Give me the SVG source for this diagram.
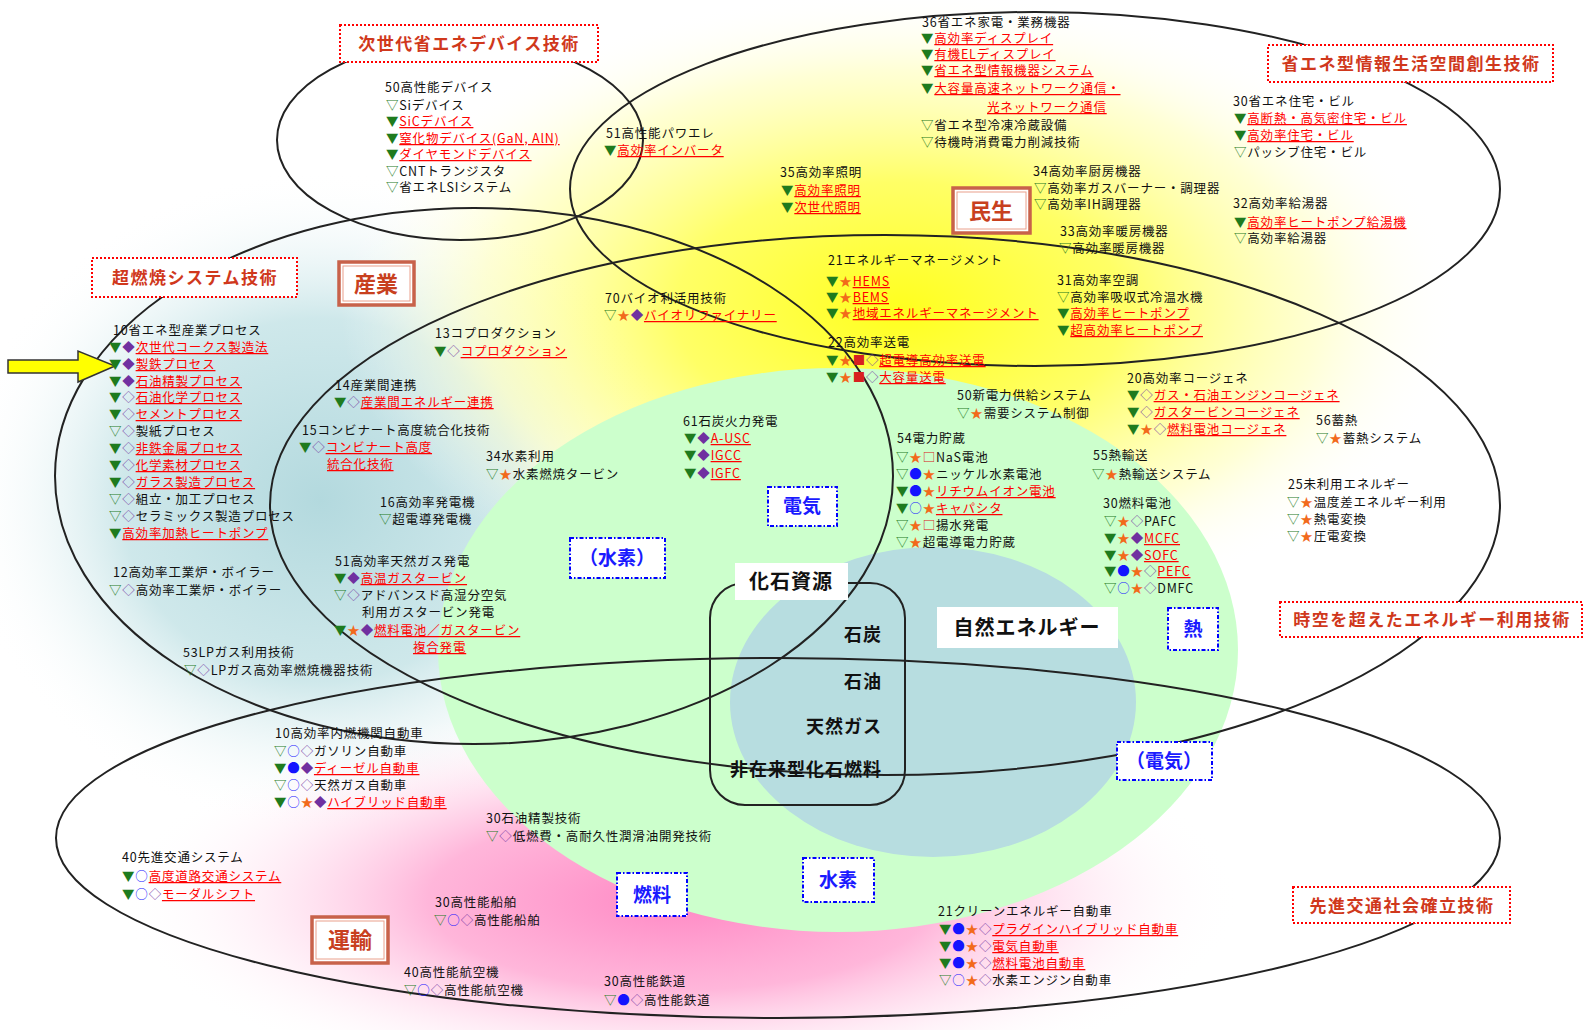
<svg xmlns="http://www.w3.org/2000/svg" width="1585" height="1030" viewBox="0 0 1585 1030">
<style>
.t{font-family:"Noto Sans CJK JP","Noto Sans",sans-serif;font-size:12.5px;fill:#111;letter-spacing:.8px}
.lk{fill:#f00;text-decoration:underline}
.g{fill:#1e7b1e}
.p{fill:#7030a0}
.s{fill:#f26a1b}
.b{fill:#1414ff}
.q{fill:#d82020}
.cat{font-family:"Noto Sans CJK JP",sans-serif;font-size:17px;font-weight:bold;fill:#d0381c;letter-spacing:1.5px;text-anchor:middle}
.catbox{fill:#fff;stroke:#f00;stroke-width:2;stroke-dasharray:2 2}
.sec{font-family:"Noto Sans CJK JP",sans-serif;font-size:22px;font-weight:bold;fill:#c8401e;text-anchor:middle}
.secbox{fill:#fff;stroke:#c8624a;stroke-width:3.5}
.secin{fill:none;stroke:#eaa08c;stroke-width:1}
.en{font-family:"Noto Sans CJK JP",sans-serif;font-size:19px;font-weight:bold;fill:#1a1aff;text-anchor:middle}
.enbox{fill:#fff;stroke:#00f;stroke-width:2;stroke-dasharray:4 2 1.5 2}
.ell{fill:none;stroke:#222;stroke-width:2}
.fos{font-family:"Noto Sans CJK JP",sans-serif;font-size:18px;font-weight:bold;fill:#111;letter-spacing:1px;text-anchor:end}
.big{font-family:"Noto Sans CJK JP",sans-serif;font-size:20px;font-weight:bold;fill:#111;letter-spacing:1px;text-anchor:middle}
</style>
<defs>
<radialGradient id="gTeal" cx="0.5" cy="0.5" r="0.5">
<stop offset="0" stop-color="#b3d9de"/>
<stop offset="0.55" stop-color="#c6e4e7" stop-opacity="0.85"/>
<stop offset="1" stop-color="#ffffff" stop-opacity="0"/>
</radialGradient>
<radialGradient id="gYel" cx="0.5" cy="0.5" r="0.5">
<stop offset="0" stop-color="#ffff1e"/>
<stop offset="0.4" stop-color="#ffff66"/>
<stop offset="0.75" stop-color="#ffffc4" stop-opacity="0.7"/>
<stop offset="1" stop-color="#ffffff" stop-opacity="0"/>
</radialGradient>
<radialGradient id="gPink" cx="0.5" cy="0.5" r="0.5">
<stop offset="0" stop-color="#ff88c4"/>
<stop offset="0.45" stop-color="#ffaed6" stop-opacity="0.9"/>
<stop offset="1" stop-color="#ffffff" stop-opacity="0"/>
</radialGradient>
</defs>
<rect width="1585" height="1030" fill="#fff"/>
<g id="backgrounds">
<ellipse cx="320" cy="500" rx="360" ry="330" fill="url(#gTeal)"/>
<ellipse cx="900" cy="310" rx="560" ry="320" fill="url(#gYel)"/>
<ellipse cx="680" cy="900" rx="560" ry="200" fill="url(#gPink)"/>
<ellipse id="green" cx="838" cy="650" rx="400" ry="282" fill="#ccffcc"/>
<ellipse id="blue" cx="933" cy="702" rx="203" ry="155" fill="#b7dde0"/>
</g>
<g id="regions">
<ellipse class="ell" cx="460" cy="140" rx="183" ry="100"/>
<ellipse class="ell" cx="1035" cy="189" rx="465" ry="177"/>
<ellipse class="ell" cx="474" cy="476" rx="419" ry="268"/>
<ellipse class="ell" cx="885" cy="505" rx="615" ry="270"/>
<ellipse class="ell" cx="778" cy="838" rx="722" ry="180"/>
<rect class="ell" x="710" y="583" width="195" height="222" rx="35"/>
</g>
<g id="connectors">
<path d="M8,360 H78 V351 L115,366 L78,382 V373 H8 Z" fill="#ffff00" stroke="#333" stroke-width="1.5"/>
</g>
<g id="cat-device"><rect class="catbox" x="340" y="25" width="258" height="37"/><text class="cat" x="469" y="50">次世代省エネデバイス技術</text></g>
<g id="cat-info"><rect class="catbox" x="1268" y="45" width="285" height="37"/><text class="cat" x="1411" y="70">省エネ型情報生活空間創生技術</text></g>
<g id="cat-combust"><rect class="catbox" x="92" y="258" width="205" height="39"/><text class="cat" x="195" y="284">超燃焼システム技術</text></g>
<g id="cat-time"><rect class="catbox" x="1280" y="602" width="302" height="35"/><text class="cat" x="1432" y="626">時空を超えたエネルギー利用技術</text></g>
<g id="cat-traffic"><rect class="catbox" x="1293" y="887" width="217" height="36"/><text class="cat" x="1402" y="912">先進交通社会確立技術</text></g>
<g id="sec-industry"><rect class="secbox" x="339" y="262" width="75" height="43"/><rect class="secin" x="343" y="266" width="67" height="35"/><text class="sec" x="376" y="292">産業</text></g>
<g id="sec-civil"><rect class="secbox" x="953" y="188" width="77" height="45"/><rect class="secin" x="957" y="192" width="69" height="37"/><text class="sec" x="991" y="219">民生</text></g>
<g id="sec-transport"><rect class="secbox" x="312" y="917" width="76" height="46"/><rect class="secin" x="316" y="921" width="68" height="38"/><text class="sec" x="350" y="948">運輸</text></g>
<g id="en-elec"><rect class="enbox" x="768" y="487" width="69" height="39"/><text class="en" x="802" y="513">電気</text></g>
<g id="en-h2a"><rect class="enbox" x="570" y="538" width="95" height="40"/><text class="en" x="617" y="565">（水素）</text></g>
<g id="en-heat"><rect class="enbox" x="1168" y="608" width="50" height="42"/><text class="en" x="1193" y="636">熱</text></g>
<g id="en-elec2"><rect class="enbox" x="1117" y="742" width="95" height="38"/><text class="en" x="1164" y="768">（電気）</text></g>
<g id="en-fuel"><rect class="enbox" x="617" y="873" width="70" height="43"/><text class="en" x="652" y="902">燃料</text></g>
<g id="en-h2"><rect class="enbox" x="803" y="858" width="71" height="44"/><text class="en" x="838" y="887">水素</text></g>
<g id="fossil">
<rect x="735" y="563" width="113" height="37" fill="#fff"/>
<text class="big" x="791" y="589">化石資源</text>
<text class="fos" x="882" y="641">石炭</text>
<text class="fos" x="882" y="688">石油</text>
<text class="fos" x="882" y="733">天然ガス</text>
<text class="fos" x="882" y="776">非在来型化石燃料</text>
</g>
<g id="natural"><rect x="937" y="607" width="181" height="41" fill="#fff"/><text class="big" x="1027" y="635">自然エネルギー</text></g>

<g id="n50dev">
<text class="t" x="385" y="92">50高性能デバイス</text>
<text class="t" x="386" y="110"><tspan class="g">▽</tspan>Siデバイス</text>
<text class="t" x="386" y="126"><tspan class="g">▼</tspan><tspan class="lk">SiCデバイス</tspan></text>
<text class="t" x="386" y="143"><tspan class="g">▼</tspan><tspan class="lk">窒化物デバイス(GaN, AlN)</tspan></text>
<text class="t" x="386" y="159"><tspan class="g">▼</tspan><tspan class="lk">ダイヤモンドデバイス</tspan></text>
<text class="t" x="386" y="176"><tspan class="g">▽</tspan>CNTトランジスタ</text>
<text class="t" x="386" y="192"><tspan class="g">▽</tspan>省エネLSIシステム</text>
</g>
<g id="n51pe">
<text class="t" x="606" y="138">51高性能パワエレ</text>
<text class="t" x="604" y="155"><tspan class="g">▼</tspan><tspan class="lk">高効率インバータ</tspan></text>
</g>
<g id="n36">
<text class="t" x="922" y="27">36省エネ家電・業務機器</text>
<text class="t" x="921" y="43"><tspan class="g">▼</tspan><tspan class="lk">高効率ディスプレイ</tspan></text>
<text class="t" x="921" y="59"><tspan class="g">▼</tspan><tspan class="lk">有機ELディスプレイ</tspan></text>
<text class="t" x="921" y="75"><tspan class="g">▼</tspan><tspan class="lk">省エネ型情報機器システム</tspan></text>
<text class="t" x="921" y="93"><tspan class="g">▼</tspan><tspan class="lk">大容量高速ネットワーク通信・</tspan></text>
<text class="t" x="987" y="112"><tspan class="lk">光ネットワーク通信</tspan></text>
<text class="t" x="921" y="130"><tspan class="g">▽</tspan>省エネ型冷凍冷蔵設備</text>
<text class="t" x="921" y="147"><tspan class="g">▽</tspan>待機時消費電力削減技術</text>
</g>
<g id="n35">
<text class="t" x="780" y="177">35高効率照明</text>
<text class="t" x="781" y="195"><tspan class="g">▼</tspan><tspan class="lk">高効率照明</tspan></text>
<text class="t" x="781" y="212"><tspan class="g">▼</tspan><tspan class="lk">次世代照明</tspan></text>
</g>
<g id="n34k">
<text class="t" x="1033" y="176">34高効率厨房機器</text>
<text class="t" x="1034" y="193"><tspan class="g">▽</tspan>高効率ガスバーナー・調理器</text>
<text class="t" x="1034" y="209"><tspan class="g">▽</tspan>高効率IH調理器</text>
</g>
<g id="n33">
<text class="t" x="1060" y="236">33高効率暖房機器</text>
<text class="t" x="1059" y="253"><tspan class="g">▽</tspan>高効率暖房機器</text>
</g>
<g id="n31">
<text class="t" x="1057" y="285">31高効率空調</text>
<text class="t" x="1057" y="302"><tspan class="g">▽</tspan>高効率吸収式冷温水機</text>
<text class="t" x="1057" y="318"><tspan class="g">▼</tspan><tspan class="lk">高効率ヒートポンプ</tspan></text>
<text class="t" x="1057" y="335"><tspan class="g">▼</tspan><tspan class="lk">超高効率ヒートポンプ</tspan></text>
</g>
<g id="n30h">
<text class="t" x="1233" y="106">30省エネ住宅・ビル</text>
<text class="t" x="1234" y="123"><tspan class="g">▼</tspan><tspan class="lk">高断熱・高気密住宅・ビル</tspan></text>
<text class="t" x="1234" y="140"><tspan class="g">▼</tspan><tspan class="lk">高効率住宅・ビル</tspan></text>
<text class="t" x="1234" y="157"><tspan class="g">▽</tspan>パッシブ住宅・ビル</text>
</g>
<g id="n32">
<text class="t" x="1233" y="208">32高効率給湯器</text>
<text class="t" x="1234" y="227"><tspan class="g">▼</tspan><tspan class="lk">高効率ヒートポンプ給湯機</tspan></text>
<text class="t" x="1234" y="243"><tspan class="g">▽</tspan>高効率給湯器</text>
</g>
<g id="n21em">
<text class="t" x="828" y="265">21エネルギーマネージメント</text>
<text class="t" x="826" y="286"><tspan class="g">▼</tspan><tspan class="s">★</tspan><tspan class="lk">HEMS</tspan></text>
<text class="t" x="826" y="302"><tspan class="g">▼</tspan><tspan class="s">★</tspan><tspan class="lk">BEMS</tspan></text>
<text class="t" x="826" y="318"><tspan class="g">▼</tspan><tspan class="s">★</tspan><tspan class="lk">地域エネルギーマネージメント</tspan></text>
</g>
<g id="n22tx">
<text class="t" x="828" y="347">22高効率送電</text>
<text class="t" x="826" y="365"><tspan class="g">▼</tspan><tspan class="s">★</tspan><tspan class="q">■</tspan><tspan class="p">◇</tspan><tspan class="lk">超電導高効率送電</tspan></text>
<text class="t" x="826" y="382"><tspan class="g">▼</tspan><tspan class="s">★</tspan><tspan class="q">■</tspan><tspan class="p">◇</tspan><tspan class="lk">大容量送電</tspan></text>
</g>
<g id="n50sys">
<text class="t" x="957" y="400">50新電力供給システム</text>
<text class="t" x="957" y="418"><tspan class="g">▽</tspan><tspan class="s">★</tspan>需要システム制御</text>
</g>
<g id="n20cg">
<text class="t" x="1127" y="383">20高効率コージェネ</text>
<text class="t" x="1127" y="400"><tspan class="g">▼</tspan><tspan class="p">◇</tspan><tspan class="lk">ガス・石油エンジンコージェネ</tspan></text>
<text class="t" x="1127" y="417"><tspan class="g">▼</tspan><tspan class="p">◇</tspan><tspan class="lk">ガスタービンコージェネ</tspan></text>
<text class="t" x="1127" y="434"><tspan class="g">▼</tspan><tspan class="s">★</tspan><tspan class="p">◇</tspan><tspan class="lk">燃料電池コージェネ</tspan></text>
</g>
<g id="n56">
<text class="t" x="1316" y="425">56蓄熱</text>
<text class="t" x="1316" y="443"><tspan class="g">▽</tspan><tspan class="s">★</tspan>蓄熱システム</text>
</g>
<g id="n54">
<text class="t" x="897" y="443">54電力貯蔵</text>
<text class="t" x="896" y="462"><tspan class="g">▽</tspan><tspan class="s">★</tspan><tspan class="q">□</tspan>NaS電池</text>
<text class="t" x="896" y="479"><tspan class="g">▽</tspan><tspan class="b">●</tspan><tspan class="s">★</tspan>ニッケル水素電池</text>
<text class="t" x="896" y="496"><tspan class="g">▼</tspan><tspan class="b">●</tspan><tspan class="s">★</tspan><tspan class="lk">リチウムイオン電池</tspan></text>
<text class="t" x="896" y="513"><tspan class="g">▼</tspan><tspan class="b">○</tspan><tspan class="s">★</tspan><tspan class="lk">キャパシタ</tspan></text>
<text class="t" x="896" y="530"><tspan class="g">▽</tspan><tspan class="s">★</tspan><tspan class="q">□</tspan>揚水発電</text>
<text class="t" x="896" y="547"><tspan class="g">▽</tspan><tspan class="s">★</tspan>超電導電力貯蔵</text>
</g>
<g id="n55">
<text class="t" x="1093" y="460">55熱輸送</text>
<text class="t" x="1092" y="479"><tspan class="g">▽</tspan><tspan class="s">★</tspan>熱輸送システム</text>
</g>
<g id="n30fc">
<text class="t" x="1103" y="508">30燃料電池</text>
<text class="t" x="1104" y="526"><tspan class="g">▽</tspan><tspan class="s">★</tspan><tspan class="p">◇</tspan>PAFC</text>
<text class="t" x="1104" y="543"><tspan class="g">▼</tspan><tspan class="s">★</tspan><tspan class="p">◆</tspan><tspan class="lk">MCFC</tspan></text>
<text class="t" x="1104" y="560"><tspan class="g">▼</tspan><tspan class="s">★</tspan><tspan class="p">◆</tspan><tspan class="lk">SOFC</tspan></text>
<text class="t" x="1104" y="576"><tspan class="g">▼</tspan><tspan class="b">●</tspan><tspan class="s">★</tspan><tspan class="p">◇</tspan><tspan class="lk">PEFC</tspan></text>
<text class="t" x="1104" y="593"><tspan class="g">▽</tspan><tspan class="b">○</tspan><tspan class="s">★</tspan><tspan class="p">◇</tspan>DMFC</text>
</g>
<g id="n25">
<text class="t" x="1288" y="489">25未利用エネルギー</text>
<text class="t" x="1287" y="507"><tspan class="g">▽</tspan><tspan class="s">★</tspan>温度差エネルギー利用</text>
<text class="t" x="1287" y="524"><tspan class="g">▽</tspan><tspan class="s">★</tspan>熱電変換</text>
<text class="t" x="1287" y="541"><tspan class="g">▽</tspan><tspan class="s">★</tspan>圧電変換</text>
</g>
<g id="n10ind">
<text class="t" x="113" y="335">10省エネ型産業プロセス</text>
<text class="t" x="109" y="352"><tspan class="g">▼</tspan><tspan class="p">◆</tspan><tspan class="lk">次世代コークス製造法</tspan></text>
<text class="t" x="109" y="369"><tspan class="g">▼</tspan><tspan class="p">◆</tspan><tspan class="lk">製鉄プロセス</tspan></text>
<text class="t" x="109" y="386"><tspan class="g">▼</tspan><tspan class="p">◆</tspan><tspan class="lk">石油精製プロセス</tspan></text>
<text class="t" x="109" y="402"><tspan class="g">▼</tspan><tspan class="p">◇</tspan><tspan class="lk">石油化学プロセス</tspan></text>
<text class="t" x="109" y="419"><tspan class="g">▼</tspan><tspan class="p">◇</tspan><tspan class="lk">セメントプロセス</tspan></text>
<text class="t" x="109" y="436"><tspan class="g">▽</tspan><tspan class="p">◇</tspan>製紙プロセス</text>
<text class="t" x="109" y="453"><tspan class="g">▼</tspan><tspan class="p">◇</tspan><tspan class="lk">非鉄金属プロセス</tspan></text>
<text class="t" x="109" y="470"><tspan class="g">▼</tspan><tspan class="p">◇</tspan><tspan class="lk">化学素材プロセス</tspan></text>
<text class="t" x="109" y="487"><tspan class="g">▼</tspan><tspan class="p">◇</tspan><tspan class="lk">ガラス製造プロセス</tspan></text>
<text class="t" x="109" y="504"><tspan class="g">▽</tspan><tspan class="p">◇</tspan>組立・加工プロセス</text>
<text class="t" x="109" y="521"><tspan class="g">▽</tspan><tspan class="p">◇</tspan>セラミックス製造プロセス</text>
<text class="t" x="109" y="538"><tspan class="g">▼</tspan><tspan class="lk">高効率加熱ヒートポンプ</tspan></text>
</g>
<g id="n12">
<text class="t" x="113" y="577">12高効率工業炉・ボイラー</text>
<text class="t" x="109" y="595"><tspan class="g">▽</tspan><tspan class="p">◇</tspan>高効率工業炉・ボイラー</text>
</g>
<g id="n53">
<text class="t" x="183" y="657">53LPガス利用技術</text>
<text class="t" x="184" y="675"><tspan class="g">▽</tspan><tspan class="p">◇</tspan>LPガス高効率燃焼機器技術</text>
</g>
<g id="n13">
<text class="t" x="435" y="338">13コプロダクション</text>
<text class="t" x="434" y="356"><tspan class="g">▼</tspan><tspan class="p">◇</tspan><tspan class="lk">コプロダクション</tspan></text>
</g>
<g id="n14">
<text class="t" x="335" y="390">14産業間連携</text>
<text class="t" x="334" y="407"><tspan class="g">▼</tspan><tspan class="p">◇</tspan><tspan class="lk">産業間エネルギー連携</tspan></text>
</g>
<g id="n15">
<text class="t" x="302" y="435">15コンビナート高度統合化技術</text>
<text class="t" x="299" y="452"><tspan class="g">▼</tspan><tspan class="p">◇</tspan><tspan class="lk">コンビナート高度</tspan></text>
<text class="t" x="327" y="469"><tspan class="lk">統合化技術</tspan></text>
</g>
<g id="n16">
<text class="t" x="380" y="507">16高効率発電機</text>
<text class="t" x="379" y="524"><tspan class="g">▽</tspan>超電導発電機</text>
</g>
<g id="n51gas">
<text class="t" x="335" y="566">51高効率天然ガス発電</text>
<text class="t" x="334" y="583"><tspan class="g">▼</tspan><tspan class="p">◆</tspan><tspan class="lk">高温ガスタービン</tspan></text>
<text class="t" x="334" y="600"><tspan class="g">▽</tspan><tspan class="p">◇</tspan>アドバンスド高湿分空気</text>
<text class="t" x="362" y="617">利用ガスタービン発電</text>
<text class="t" x="334" y="635"><tspan class="g">▼</tspan><tspan class="s">★</tspan><tspan class="p">◆</tspan><tspan class="lk">燃料電池／ガスタービン</tspan></text>
<text class="t" x="413" y="652"><tspan class="lk">複合発電</tspan></text>
</g>
<g id="n34h2">
<text class="t" x="486" y="461">34水素利用</text>
<text class="t" x="486" y="479"><tspan class="g">▽</tspan><tspan class="s">★</tspan>水素燃焼タービン</text>
</g>
<g id="n61">
<text class="t" x="683" y="426">61石炭火力発電</text>
<text class="t" x="684" y="443"><tspan class="g">▼</tspan><tspan class="p">◆</tspan><tspan class="lk">A-USC</tspan></text>
<text class="t" x="684" y="460"><tspan class="g">▼</tspan><tspan class="p">◆</tspan><tspan class="lk">IGCC</tspan></text>
<text class="t" x="684" y="478"><tspan class="g">▼</tspan><tspan class="p">◆</tspan><tspan class="lk">IGFC</tspan></text>
</g>
<g id="n70">
<text class="t" x="605" y="303">70バイオ利活用技術</text>
<text class="t" x="604" y="320"><tspan class="g">▽</tspan><tspan class="s">★</tspan><tspan class="p">◆</tspan><tspan class="lk">バイオリファイナリー</tspan></text>
</g>
<g id="n10car">
<text class="t" x="275" y="738">10高効率内燃機関自動車</text>
<text class="t" x="274" y="756"><tspan class="g">▽</tspan><tspan class="b">○</tspan><tspan class="p">◇</tspan>ガソリン自動車</text>
<text class="t" x="274" y="773"><tspan class="g">▼</tspan><tspan class="b">●</tspan><tspan class="p">◆</tspan><tspan class="lk">ディーゼル自動車</tspan></text>
<text class="t" x="274" y="790"><tspan class="g">▽</tspan><tspan class="b">○</tspan><tspan class="p">◇</tspan>天然ガス自動車</text>
<text class="t" x="274" y="807"><tspan class="g">▼</tspan><tspan class="b">○</tspan><tspan class="s">★</tspan><tspan class="p">◆</tspan><tspan class="lk">ハイブリッド自動車</tspan></text>
</g>
<g id="n40its">
<text class="t" x="122" y="862">40先進交通システム</text>
<text class="t" x="122" y="881"><tspan class="g">▼</tspan><tspan class="b">○</tspan><tspan class="lk">高度道路交通システム</tspan></text>
<text class="t" x="122" y="899"><tspan class="g">▼</tspan><tspan class="b">○</tspan><tspan class="p">◇</tspan><tspan class="lk">モーダルシフト</tspan></text>
</g>
<g id="n30oil">
<text class="t" x="486" y="823">30石油精製技術</text>
<text class="t" x="486" y="841"><tspan class="g">▽</tspan><tspan class="p">◇</tspan>低燃費・高耐久性潤滑油開発技術</text>
</g>
<g id="n30ship">
<text class="t" x="435" y="907">30高性能船舶</text>
<text class="t" x="434" y="925"><tspan class="g">▽</tspan><tspan class="b">○</tspan><tspan class="p">◇</tspan>高性能船舶</text>
</g>
<g id="n40air">
<text class="t" x="404" y="977">40高性能航空機</text>
<text class="t" x="404" y="995"><tspan class="g">▽</tspan><tspan class="b">○</tspan><tspan class="p">◇</tspan>高性能航空機</text>
</g>
<g id="n30rail">
<text class="t" x="604" y="986">30高性能鉄道</text>
<text class="t" x="604" y="1005"><tspan class="g">▽</tspan><tspan class="b">●</tspan><tspan class="p">◇</tspan>高性能鉄道</text>
</g>
<g id="n21cev">
<text class="t" x="938" y="916">21クリーンエネルギー自動車</text>
<text class="t" x="939" y="934"><tspan class="g">▼</tspan><tspan class="b">●</tspan><tspan class="s">★</tspan><tspan class="p">◇</tspan><tspan class="lk">プラグインハイブリッド自動車</tspan></text>
<text class="t" x="939" y="951"><tspan class="g">▼</tspan><tspan class="b">●</tspan><tspan class="s">★</tspan><tspan class="p">◇</tspan><tspan class="lk">電気自動車</tspan></text>
<text class="t" x="939" y="968"><tspan class="g">▼</tspan><tspan class="b">●</tspan><tspan class="s">★</tspan><tspan class="p">◇</tspan><tspan class="lk">燃料電池自動車</tspan></text>
<text class="t" x="939" y="985"><tspan class="g">▽</tspan><tspan class="b">○</tspan><tspan class="s">★</tspan><tspan class="p">◇</tspan>水素エンジン自動車</text>
</g>
</svg>
